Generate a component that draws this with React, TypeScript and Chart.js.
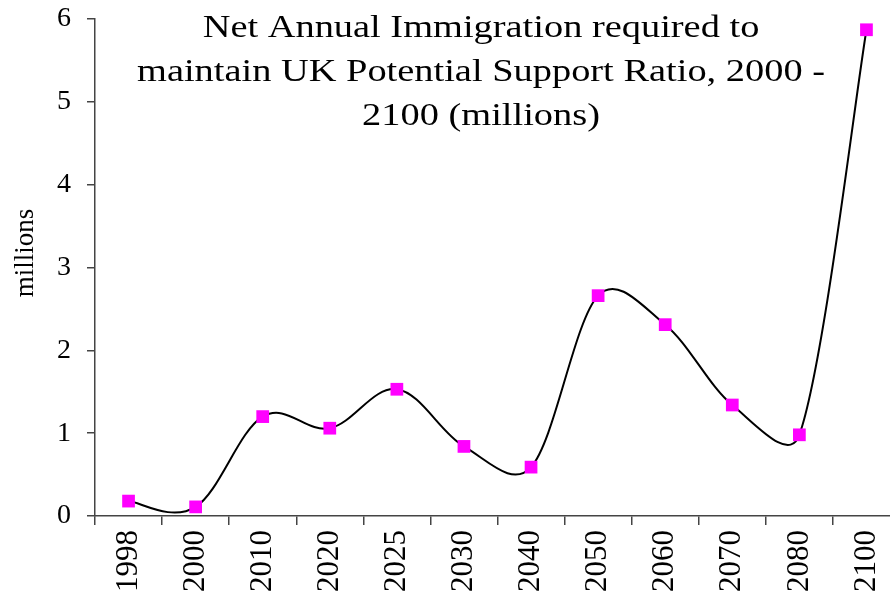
import React, { useEffect, useRef } from "react";
import { Chart, registerables } from "chart.js";
Chart.register(...registerables);

const categories = ["1998", "2000", "2010", "2020", "2025", "2030", "2040", "2050", "2060", "2070", "2080", "2100"];
const immigration = [0.18, 0.11, 1.2, 1.06, 1.53, 0.84, 0.59, 2.66, 2.31, 1.34, 0.98, 5.87];
const yTicks = [0, 1, 2, 3, 4, 5, 6];
const titleLines = [
  "Net Annual Immigration required to",
  "maintain UK Potential Support Ratio, 2000 -",
  "2100 (millions)",
];
const yAxisTitle = "millions";

const SERIF = '"Liberation Serif", "Times New Roman", serif';

// Spreadsheet-style smoothing: distance-weighted tangents, with the control arm capped
const smoothPlugin = {
  id: "smoothPlugin",
  beforeDatasetDraw(chart: any, args: any) {
    const meta = args.meta;
    const line = meta.dataset;
    if (!line || !meta.data || !meta.data.length) return;
    line.updateControlPoints(chart.chartArea, meta.iScale ? meta.iScale.axis : "x");
    const pts = meta.data;
    const n = pts.length;
    const T = 0.5;
    const CAP = 0.18;
    for (let i = 0; i < n; i++) {
      const p = pts[i];
      const prev = pts[Math.max(i - 1, 0)];
      const next = pts[Math.min(i + 1, n - 1)];
      const d01 = Math.hypot(p.x - prev.x, p.y - prev.y);
      const d12 = Math.hypot(next.x - p.x, next.y - p.y);
      const sum = d01 + d12 || 1;
      const fa = Math.min((T * d01) / sum, CAP);
      const fb = Math.min((T * d12) / sum, CAP);
      const tx = next.x - prev.x;
      const ty = next.y - prev.y;
      p.cp1x = p.x - fa * tx;
      p.cp1y = p.y - fa * ty;
      p.cp2x = p.x + fb * tx;
      p.cp2y = p.y + fb * ty;
    }
    line._path = undefined;
  },
};

const textPlugin = {
  id: "textPlugin",
  afterDraw(chart: any) {
    const ctx = chart.ctx;
    ctx.save();
    ctx.fillStyle = "#000";
    ctx.font = `32px ${SERIF}`;
    ctx.textAlign = "center";
    ctx.textBaseline = "alphabetic";
    const baselines = [37, 81, 125];
    titleLines.forEach((line, i) => {
      ctx.save();
      ctx.translate(481, baselines[i]);
      ctx.scale(1.2, 1);
      ctx.fillText(line, 0, 0);
      ctx.restore();
    });
    ctx.save();
    ctx.font = `27px ${SERIF}`;
    ctx.translate(33, 253);
    ctx.rotate(-Math.PI / 2);
    ctx.textAlign = "center";
    ctx.textBaseline = "alphabetic";
    ctx.fillText(yAxisTitle, 0, 0);
    ctx.restore();
    ctx.restore();
  },
};

export default function App() {
  const ref = useRef<HTMLCanvasElement | null>(null);
  useEffect(() => {
    if (!ref.current) return;
    const chart = new Chart(ref.current, {
      type: "line",
      data: {
        labels: categories,
        datasets: [
          {
            data: immigration,
            borderColor: "#000",
            borderWidth: 2,
            tension: 0.5,
            fill: false,
            pointStyle: "rect",
            pointRadius: 9,
            pointBackgroundColor: "#FF00FF",
            pointBorderColor: "#FF00FF",
            pointBorderWidth: 0,
            clip: false as any,
          },
        ],
      },
      options: {
        responsive: false,
        animation: false,
        devicePixelRatio: 1,
        layout: { autoPadding: false, padding: { top: 19, right: 0, left: 0, bottom: 0 } },
        plugins: {
          legend: { display: false },
          title: { display: false },
          tooltip: { enabled: false },
        },
        scales: {
          x: {
            type: "category",
            offset: true,
            grid: {
              offset: true,
              drawOnChartArea: false,
              drawTicks: true,
              tickLength: 9,
              color: "#444",
              lineWidth: 1.5,
            },
            border: { display: true, color: "#444", width: 1.5 },
            ticks: {
              autoSkip: false,
              maxRotation: 90,
              minRotation: 90,
              padding: 5,
              color: "#000",
              font: { family: SERIF, size: 31 },
            },
            afterFit: (scale: any) => {
              scale.height = 84;
              scale.paddingLeft = 0;
              scale.paddingRight = 0;
            },
          },
          y: {
            min: yTicks[0],
            max: yTicks[yTicks.length - 1],
            grid: {
              drawOnChartArea: false,
              drawTicks: true,
              tickLength: 8,
              color: "#444",
              lineWidth: 1.5,
            },
            border: { display: true, color: "#444", width: 1.5 },
            ticks: {
              stepSize: 1,
              padding: 16,
              color: "#000",
              font: { family: SERIF, size: 28 },
            },
            afterFit: (scale: any) => {
              scale.width = 95;
              scale.paddingTop = 0;
              scale.paddingBottom = 0;
            },
          },
        },
      },
      plugins: [smoothPlugin, textPlugin],
    });
    return () => chart.destroy();
  }, []);

  return (
    <div
      style={{
        position: "fixed",
        left: 0,
        top: 0,
        width: 890,
        height: 593,
        overflow: "hidden",
        background: "#fff",
      }}
    >
      <canvas ref={ref} width={900} height={600} style={{ display: "block" }} />
    </div>
  );
}
